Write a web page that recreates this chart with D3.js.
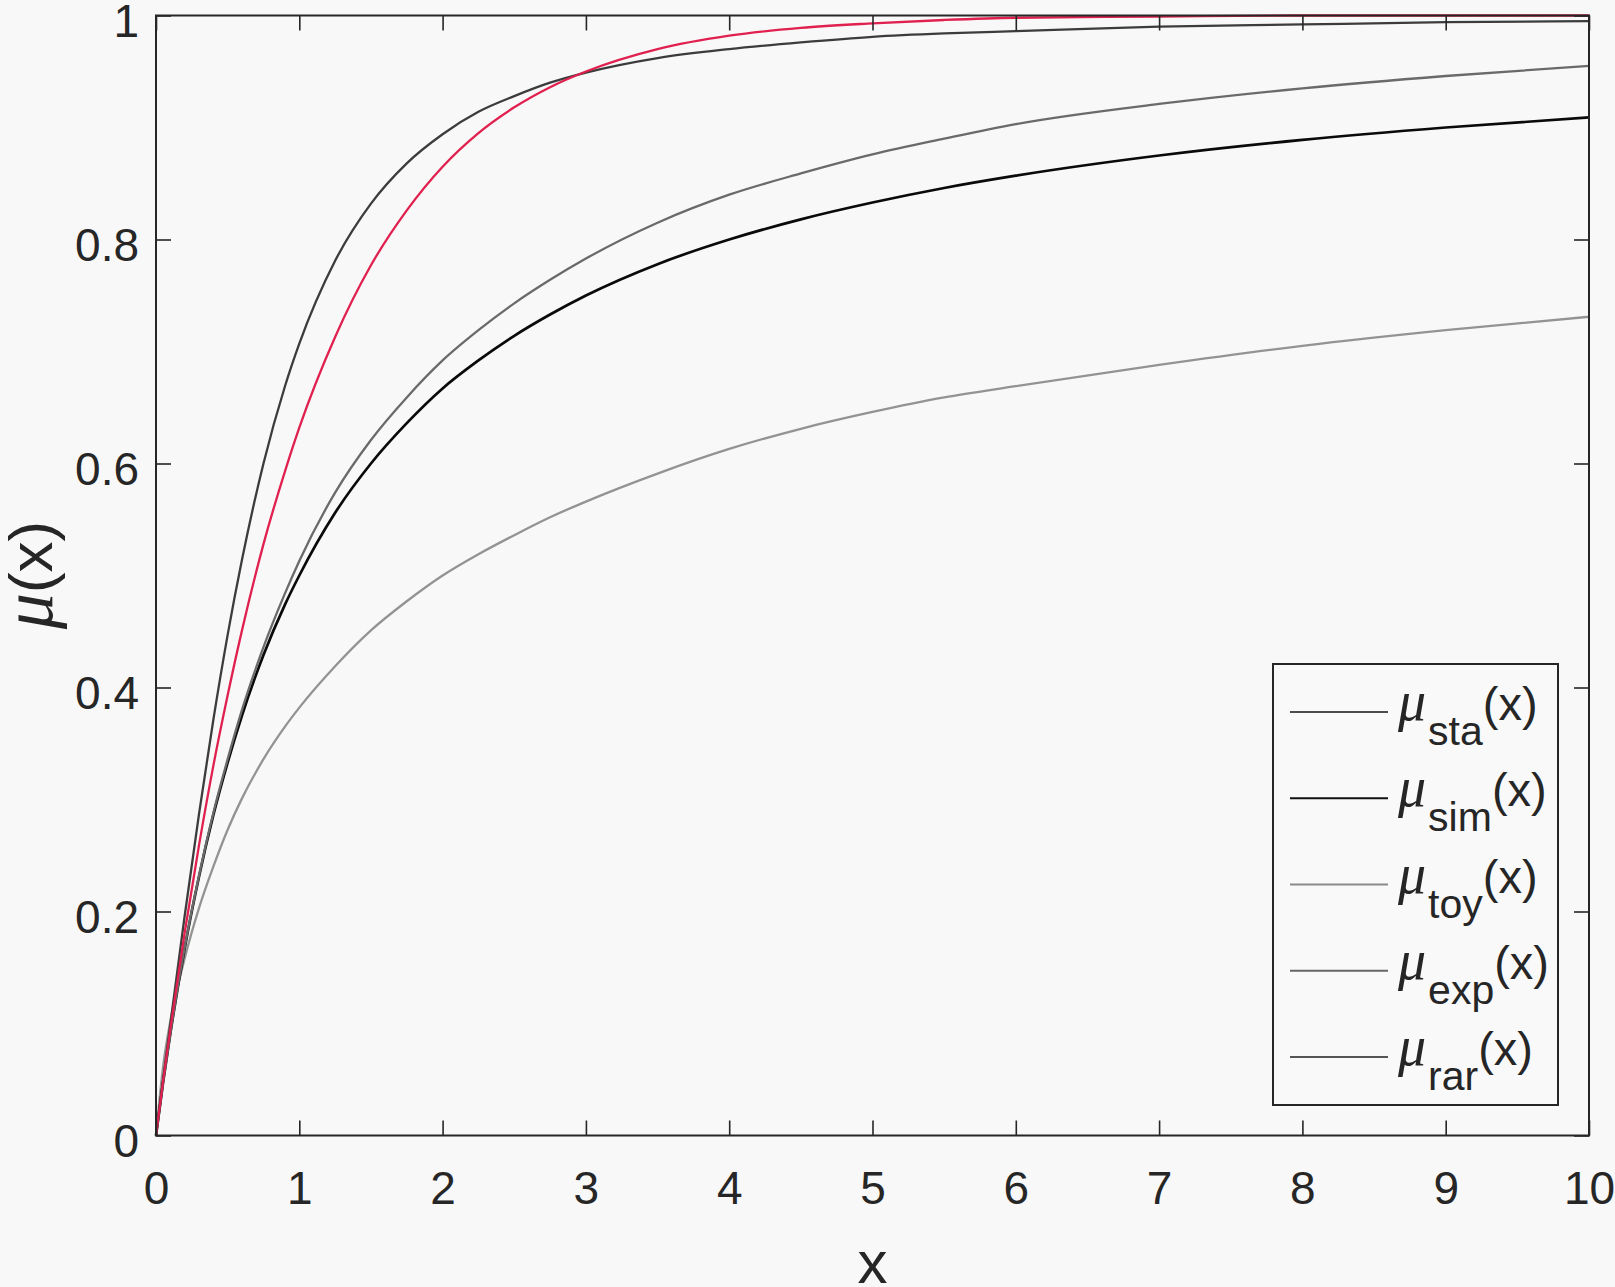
<!DOCTYPE html>
<html>
<head>
<meta charset="utf-8">
<script src="https://cdn.jsdelivr.net/npm/d3@7"></script>
<style>
  html, body { margin: 0; padding: 0; background: #f8f8f8; }
  svg { display: block; }
</style>
</head>
<body>
<svg id="chart"></svg>
<script>
// values
const xs = [0, 0.05, 0.1, 0.2, 0.3, 0.4, 0.5, 0.6, 0.75, 0.9, 1, 1.25, 1.5, 1.75, 2, 2.25, 2.5, 2.75, 3, 3.5, 4, 4.5, 5, 5.5, 6, 7, 8, 9, 10];
const staVals = [0, 0.050, 0.0995, 0.196, 0.287, 0.371, 0.447, 0.514, 0.600, 0.669, 0.707, 0.781, 0.832, 0.868, 0.894, 0.914, 0.928, 0.940, 0.949, 0.962, 0.970, 0.976, 0.981, 0.984, 0.986, 0.990, 0.992, 0.994, 0.995];
const simVals = [0, 0.048, 0.091, 0.167, 0.231, 0.286, 0.333, 0.375, 0.429, 0.474, 0.500, 0.556, 0.600, 0.636, 0.667, 0.692, 0.714, 0.733, 0.750, 0.778, 0.800, 0.818, 0.833, 0.846, 0.857, 0.875, 0.889, 0.900, 0.909];
const toyVals = [0, 0.062, 0.102, 0.158, 0.203, 0.240, 0.273, 0.301, 0.336, 0.365, 0.382, 0.419, 0.451, 0.477, 0.500, 0.519, 0.536, 0.552, 0.566, 0.591, 0.613, 0.631, 0.646, 0.659, 0.669, 0.688, 0.705, 0.719, 0.731];
const expVals = [0, 0.049, 0.095, 0.181, 0.259, 0.330, 0.393, 0.451, 0.528, 0.593, 0.632, 0.713, 0.777, 0.826, 0.865, 0.895, 0.918, 0.936, 0.950, 0.970, 0.982, 0.989, 0.993, 0.996, 0.998, 0.999, 1, 1, 1];
const rarVals = [0, 0.048, 0.091, 0.168, 0.232, 0.288, 0.336, 0.380, 0.436, 0.484, 0.513, 0.574, 0.621, 0.659, 0.692, 0.719, 0.743, 0.764, 0.783, 0.815, 0.840, 0.859, 0.876, 0.890, 0.903, 0.921, 0.935, 0.946, 0.955];

const seriesNames = ["sta", "sim", "toy", "exp", "rar"];
const xTicks = [0, 1, 2, 3, 4, 5, 6, 7, 8, 9, 10];
const yTicks = [0, 0.2, 0.4, 0.6, 0.8, 1];

let width = 1615;
let height = 1287;
let plotLeft = 156, plotRight = 1589, plotTop = 15.5, plotBottom = 1135.5;

let svg = d3.select("#chart").attr("width", width).attr("height", height);

let x = d3.scaleLinear().domain([0, 10]).range([plotLeft, plotRight]);
let y = d3.scaleLinear().domain([0, 1]).range([plotBottom, plotTop]);

let series = [
  { name: "toy", vals: toyVals, color: "#939393", w: 2.3 },
  { name: "sim", vals: simVals, color: "#0a0a0a", w: 2.7 },
  { name: "rar", vals: rarVals, color: "#6a6a6a", w: 2.3 },
  { name: "sta", vals: staVals, color: "#3c3c3c", w: 2.3 },
  { name: "exp", vals: expVals, color: "#e0204e", w: 2.3 },
];
// legend swatches look grey in the reference
let legendColors = { sta: "#4c4c4c", sim: "#111111", toy: "#8a8a8a", exp: "#666666", rar: "#555555" };

let line = d3
  .line()
  .x((d) => x(d[0]))
  .y((d) => y(d[1]))
  .curve(d3.curveMonotoneX);

svg
  .append("g")
  .selectAll("path")
  .data(series)
  .join("path")
  .attr("d", (s) => line(xs.map((v, i) => [v, s.vals[i]])))
  .style("fill", "none")
  .style("stroke", (s) => s.color)
  .style("stroke-width", (s) => s.w);

// axes, ticks pointing inward on all four sides
let tickFont = "46px 'Liberation Sans', Arial, Helvetica, sans-serif";
let axisColor = "#262626";

let xAxis = svg
  .append("g")
  .attr("transform", `translate(0,${plotBottom})`)
  .call(d3.axisBottom(x).tickValues(xTicks).tickSizeInner(-15).tickSizeOuter(0).tickPadding(36).tickFormat(d3.format("")));
svg
  .append("g")
  .attr("transform", `translate(0,${plotTop})`)
  .call(d3.axisTop(x).tickValues(xTicks).tickSizeInner(-15).tickSizeOuter(0).tickFormat(""));
let yAxis = svg
  .append("g")
  .attr("transform", `translate(${plotLeft},0)`)
  .call(d3.axisLeft(y).tickValues(yTicks).tickSizeInner(-15).tickSizeOuter(0).tickPadding(17).tickFormat(d3.format("")));
svg
  .append("g")
  .attr("transform", `translate(${plotRight},0)`)
  .call(d3.axisRight(y).tickValues(yTicks).tickSizeInner(-15).tickSizeOuter(0).tickFormat(""));

svg.selectAll(".domain").remove();
svg.selectAll(".tick line").style("stroke", axisColor).style("stroke-width", 1.6);
svg.selectAll(".tick text").style("font", tickFont).style("fill", axisColor);
xAxis.selectAll(".tick text").attr("dy", "0.71em");
yAxis.selectAll(".tick text").attr("dy", "0.45em");

svg
  .append("rect")
  .attr("x", plotLeft)
  .attr("y", plotTop)
  .attr("width", plotRight - plotLeft)
  .attr("height", plotBottom - plotTop)
  .style("fill", "none")
  .style("stroke", axisColor)
  .style("stroke-width", 2);

// axis labels
svg
  .append("text")
  .attr("x", (plotLeft + plotRight) / 2)
  .attr("y", 1283)
  .attr("text-anchor", "middle")
  .style("font", "60px 'Liberation Sans', Arial, sans-serif")
  .style("fill", axisColor)
  .text("x");

let yLab = svg
  .append("text")
  .attr("transform", "translate(52,575) rotate(-90)")
  .attr("text-anchor", "middle")
  .style("font", "62px 'Liberation Sans', Arial, sans-serif")
  .style("fill", axisColor);
yLab.append("tspan").style("font-family", "'Liberation Serif', 'DejaVu Serif', serif").style("font-style", "italic").style("font-size", "72px").text("μ");
yLab.append("tspan").text("(x)");

// legend
let legend = svg.append("g");
legend
  .append("rect")
  .attr("x", 1273)
  .attr("y", 664)
  .attr("width", 285)
  .attr("height", 441)
  .style("fill", "#f9f9f9")
  .style("stroke", "#262626")
  .style("stroke-width", 2);

let rows = legend
  .selectAll(".row")
  .data(seriesNames)
  .join("g")
  .attr("class", "row")
  .attr("transform", (d, i) => `translate(0,${712 + i * 86.25})`);

rows
  .append("line")
  .attr("x1", 1290)
  .attr("x2", 1388)
  .style("stroke", (d) => legendColors[d])
  .style("stroke-width", 2);

let label = rows
  .append("text")
  .attr("x", 1398)
  .attr("y", 8)
  .style("font", "47px 'Liberation Sans', Arial, sans-serif")
  .style("fill", "#262626");
label.append("tspan").style("font-family", "'Liberation Serif', 'DejaVu Serif', serif").style("font-style", "italic").style("font-size", "56px").text("μ");
label.append("tspan").attr("dx", 2).attr("dy", 25).style("font-size", "41px").text((d) => d);
label.append("tspan").attr("dy", -25).text("(x)");
</script>
</body>
</html>
